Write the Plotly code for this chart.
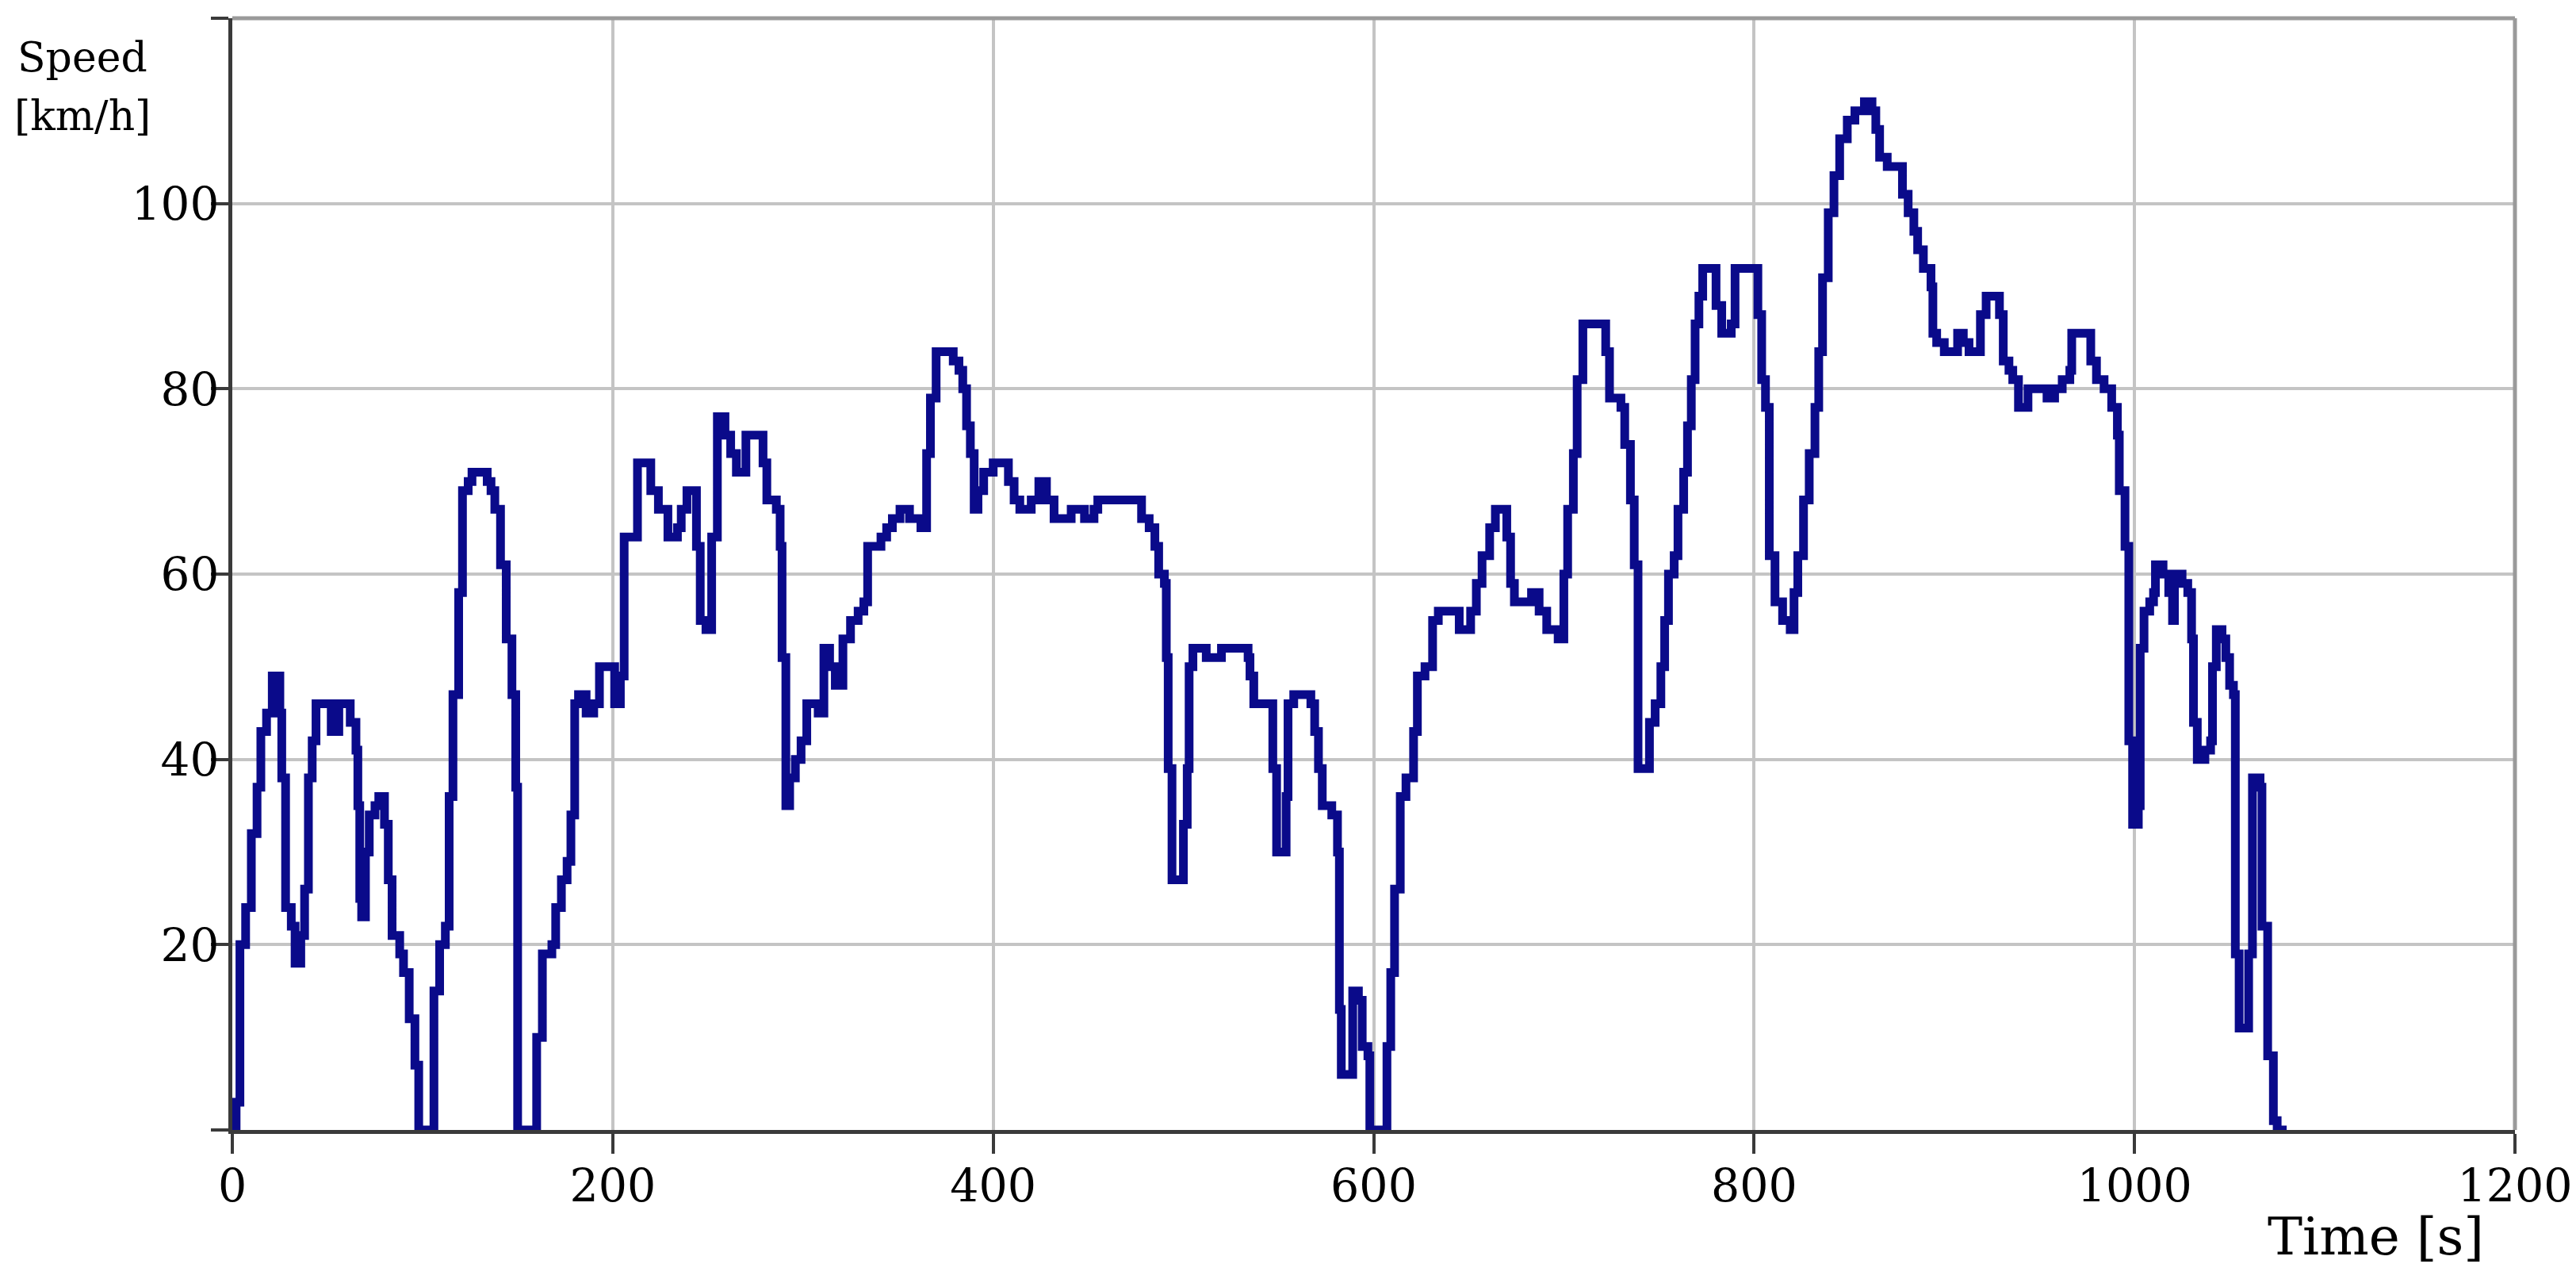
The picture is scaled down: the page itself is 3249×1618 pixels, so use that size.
import plotly.graph_objects as go

# ---- data (time in s, speed in km/h, stepped profile) ----
time_s = [
    0, 2, 4, 7, 10, 13, 15, 18, 21, 25, 26, 28, 31, 33, 36, 38, 40, 42, 44, 52,
    56, 62, 65, 66, 67, 68, 70, 72, 75, 77, 80, 82, 84, 88, 90, 93, 96, 98, 106, 109,
    112, 114, 116, 119, 121, 124, 126, 134, 136, 138, 141, 144, 147, 149, 150, 160, 163, 168, 170, 173,
    176, 178, 180, 182, 186, 190, 193, 197, 201, 204, 206, 213, 220, 224, 229, 234, 236, 239, 244, 246,
    249, 252, 255, 259, 262, 265, 270, 279, 281, 286, 288, 289, 291, 293, 296, 299, 302, 308, 311, 314,
    317, 321, 325, 329, 332, 334, 341, 344, 347, 351, 356, 362, 365, 367, 370, 379, 382, 384, 386, 388,
    390, 392, 395, 400, 406, 408, 411, 414, 418, 420, 424, 428, 432, 438, 441, 446, 448, 453, 455, 464,
    476, 478, 482, 485, 487, 490, 491, 492, 494, 499, 500, 502, 503, 505, 508, 512, 520, 530, 534, 535,
    537, 547, 549, 553, 554, 555, 558, 566, 567, 569, 571, 573, 578, 581, 582, 583, 588, 589, 592, 594,
    597, 598, 606, 607, 609, 611, 614, 617, 621, 623, 627, 631, 634, 643, 645, 650, 651, 654, 657, 661,
    664, 668, 670, 672, 674, 680, 683, 687, 691, 697, 700, 702, 705, 707, 710, 720, 722, 724, 730, 732,
    735, 737, 739, 743, 745, 748, 751, 753, 755, 758, 760, 763, 765, 767, 769, 771, 773, 778, 780, 783,
    788, 790, 802, 804, 806, 808, 811, 815, 819, 821, 823, 826, 829, 832, 834, 836, 839, 842, 845, 849,
    853, 858, 862, 864, 866, 870, 878, 881, 884, 886, 889, 893, 894, 896, 900, 907, 910, 913, 919, 922,
    929, 931, 934, 936, 939, 942, 944, 952, 954, 958, 962, 966, 967, 975, 977, 980, 984, 988, 991, 992,
    995, 997, 999, 1002, 1003, 1005, 1008, 1010, 1011, 1015, 1018, 1020, 1021, 1025, 1028, 1030, 1031, 1033, 1037, 1040,
    1041, 1043, 1046, 1048, 1050, 1052, 1053, 1055, 1060, 1062, 1066, 1067, 1070, 1073, 1075, 1080,
]
speed_kmh = [
    0, 3, 20, 24, 32, 37, 43, 45, 49, 45, 38, 24, 22, 18, 21, 26, 38, 42, 46, 43,
    46, 44, 41, 35, 25, 23, 30, 34, 35, 36, 33, 27, 21, 19, 17, 12, 7, 0, 15, 20,
    22, 36, 47, 58, 69, 70, 71, 70, 69, 67, 61, 53, 47, 37, 0, 10, 19, 20, 24, 27,
    29, 34, 46, 47, 45, 46, 50, 50, 46, 49, 64, 72, 69, 67, 64, 65, 67, 69, 63, 55,
    54, 64, 77, 75, 73, 71, 75, 72, 68, 67, 63, 51, 35, 38, 40, 42, 46, 45, 52, 50,
    48, 53, 55, 56, 57, 63, 64, 65, 66, 67, 66, 65, 73, 79, 84, 83, 82, 80, 76, 73,
    67, 69, 71, 72, 72, 70, 68, 67, 67, 68, 70, 68, 66, 66, 67, 67, 66, 67, 68, 68,
    68, 66, 65, 63, 60, 59, 51, 39, 27, 27, 33, 39, 50, 52, 52, 51, 52, 52, 51, 49,
    46, 39, 30, 30, 36, 46, 47, 47, 46, 43, 39, 35, 34, 30, 13, 6, 6, 15, 14, 9,
    8, 0, 0, 9, 17, 26, 36, 38, 43, 49, 50, 55, 56, 56, 54, 54, 56, 59, 62, 65,
    67, 67, 64, 59, 57, 57, 58, 56, 54, 53, 60, 67, 73, 81, 87, 87, 84, 79, 78, 74,
    68, 61, 39, 39, 44, 46, 50, 55, 60, 62, 67, 71, 76, 81, 87, 90, 93, 93, 89, 86,
    87, 93, 88, 81, 78, 62, 57, 55, 54, 58, 62, 68, 73, 78, 84, 92, 99, 103, 107, 109,
    110, 111, 110, 108, 105, 104, 101, 99, 97, 95, 93, 91, 86, 85, 84, 86, 85, 84, 88, 90,
    88, 83, 82, 81, 78, 78, 80, 80, 79, 80, 81, 82, 86, 86, 83, 81, 80, 78, 75, 69,
    63, 42, 33, 35, 52, 56, 57, 58, 61, 60, 58, 55, 60, 59, 58, 53, 44, 40, 41, 42,
    50, 54, 53, 51, 48, 47, 19, 11, 19, 38, 37, 22, 8, 1, 0, 0,
]

x_ticks = [0, 200, 400, 600, 800, 1000, 1200]
y_ticks = [0, 20, 40, 60, 80, 100, 120]
y_tick_text = ["", "20", "40", "60", "80", "100", ""]

FONT = "DejaVu Serif"
DARK = "#3a3a3a"

fig = go.Figure()
fig.add_trace(go.Scatter(
    x=time_s, y=speed_kmh, mode="lines",
    line=dict(color="#0a0a8a", width=11, shape="hv"),
    showlegend=False,
))

fig.update_layout(
    width=3249, height=1618,
    margin=dict(l=285, r=72, t=15, b=201),
    paper_bgcolor="white", plot_bgcolor="white",
    font=dict(family=FONT, size=57, color="black"),
    xaxis=dict(
        range=[0, 1200], tickvals=x_ticks, showgrid=True,
        gridcolor="#c4c4c4", gridwidth=4, zeroline=False,
        showline=True, linecolor=DARK, linewidth=5,
        ticks="outside", ticklen=25, tickwidth=4, tickcolor=DARK,
        ticklabelstandoff=-8, ticklabeloverflow="allow",
        tickfont=dict(family=FONT, size=57, color="black"),
    ),
    yaxis=dict(
        range=[0, 120], tickvals=y_ticks, ticktext=y_tick_text, showgrid=True,
        gridcolor="#c4c4c4", gridwidth=4, zeroline=False,
        showline=True, linecolor=DARK, linewidth=5,
        ticks="outside", ticklen=22, tickwidth=4, tickcolor=DARK,
        ticklabelstandoff=-22,
        tickfont=dict(family=FONT, size=58, color="black"),
    ),
    shapes=[
        dict(type="line", xref="paper", yref="paper", x0=0, x1=1, y0=1, y1=1,
             line=dict(color="#9a9a9a", width=5)),
        dict(type="line", xref="paper", yref="paper", x0=1, x1=1, y0=0, y1=1,
             line=dict(color="#9a9a9a", width=5)),
    ],
    annotations=[
        dict(text="Speed", xref="paper", yref="paper", x=-0.0655, y=0.965,
             xanchor="center", yanchor="middle", showarrow=False,
             font=dict(family=FONT, size=52, color="black")),
        dict(text="[km/h]", xref="paper", yref="paper", x=-0.0655, y=0.912,
             xanchor="center", yanchor="middle", showarrow=False,
             font=dict(family=FONT, size=52, color="black")),
        dict(text="Time [s]", xref="paper", yref="paper", x=0.939, y=-0.096,
             xanchor="center", yanchor="middle", showarrow=False,
             font=dict(family=FONT, size=66, color="black")),
    ],
)

fig.write_html("out.html")
